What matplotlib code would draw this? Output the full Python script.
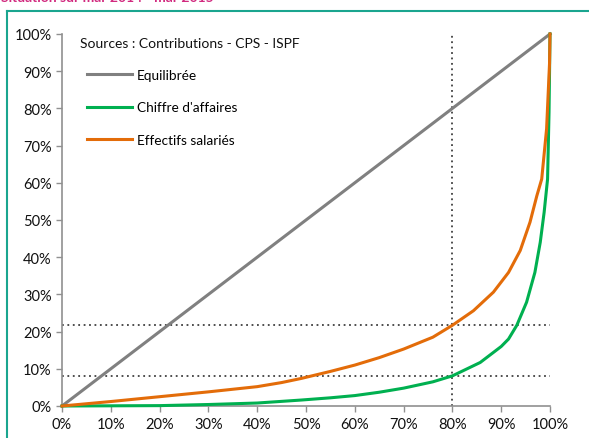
import matplotlib.pyplot as plt
from matplotlib.lines import Line2D
from matplotlib.ticker import FuncFormatter

# courbes de concentration (en % cumulés)
equi_x = [0, 100]
equi_y = [0, 100]

ca_x = [0, 20, 30, 40, 49, 55, 60, 65, 70, 76, 80, 85.7, 90, 91.5, 93.2, 95.2, 96.9, 98.0, 98.8, 99.5, 99.8, 100]
ca_y = [0, 0.1, 0.4, 0.8, 1.6, 2.2, 2.8, 3.7, 4.8, 6.5, 8.1, 11.7, 16.0, 18.0, 21.7, 27.9, 35.9, 44.0, 52.1, 61.0, 79, 100]

eff_x = [0, 10, 20, 30, 40, 45, 49, 55, 60, 65, 70, 76, 80, 84.3, 88.4, 91.5, 93.9, 95.9, 97.3, 98.3, 99.3, 99.9, 100]
eff_y = [0, 1.2, 2.5, 3.8, 5.2, 6.3, 7.4, 9.3, 11.0, 13.0, 15.3, 18.5, 21.7, 25.6, 30.6, 35.9, 41.8, 49.4, 56.5, 61.0, 74.5, 92, 100]

repere_x = 80
repere_y = [21.7, 8.1]

ticks = list(range(0, 101, 10))

plt.rcParams['font.family'] = ['Lato', 'DejaVu Sans']

fig = plt.figure(figsize=(5.89, 4.39), dpi=100)
ax = fig.add_axes([0.1053, 0.0729, 0.8285, 0.8474])

# lignes de repère pointillées
dot = dict(color='#404040', lw=1.3, linestyle=(0, (1, 2)), zorder=1, clip_on=False)
ax.plot([repere_x, repere_x], [0, 100], **dot)
for yv in repere_y:
    ax.plot([0, 100], [yv, yv], **dot)

ax.plot(equi_x, equi_y, color='#808080', lw=2.2, label='Equilibrée', clip_on=False, zorder=3)
ax.plot(ca_x, ca_y, color='#00B050', lw=2.2, label="Chiffre d'affaires", clip_on=False, zorder=3,
        solid_joinstyle='round')
ax.plot(eff_x, eff_y, color='#E36C09', lw=2.2, label='Effectifs salariés', clip_on=False, zorder=4,
        solid_joinstyle='round')

ax.set_xlim(0, 100)
ax.set_ylim(0, 100)
ax.set_xticks(ticks)
ax.set_yticks(ticks)
pct = FuncFormatter(lambda v, p: f'{v:.0f}%')
ax.xaxis.set_major_formatter(pct)
ax.yaxis.set_major_formatter(pct)
ax.tick_params(direction='out', length=4, width=1, color='#909090', labelsize=10.5, labelcolor='#111111')
ax.tick_params(axis='x', pad=4)
for s in ['top', 'right']:
    ax.spines[s].set_visible(False)
for s in ['left', 'bottom']:
    ax.spines[s].set_color('#909090')
    ax.spines[s].set_linewidth(1.2)

fig.text(80 / 589, 1 - 44 / 439, 'Sources : Contributions - CPS - ISPF', fontsize=10,
         va='center', ha='left', color='#111111')
ax.legend(loc='upper left', bbox_to_anchor=(87 / 589, 1 - 70 / 439), bbox_transform=fig.transFigure,
          frameon=False, fontsize=9.8, handlelength=3.3, handletextpad=0.35,
          labelspacing=1.5, borderaxespad=0, borderpad=0)

# cadre et titre du graphique
fig.add_artist(Line2D([7 / 589, 1], [1 - 12 / 439, 1 - 12 / 439], color='#1AA58F', lw=1.5))
fig.add_artist(Line2D([7 / 589, 7 / 589], [0, 1 - 12 / 439], color='#1AA58F', lw=1.5))
fig.text(1 / 589, 1 - 2.5 / 439, 'Situation sur mar 2014 - mar 2015', color='#D12A7F',
         fontsize=10, fontweight='bold', va='baseline', ha='left')

fig.savefig('out.png', dpi=100)
